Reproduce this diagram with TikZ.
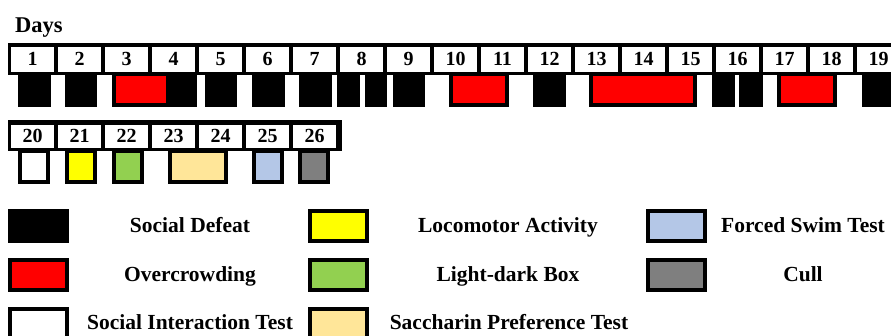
\documentclass[tikz,border=0pt]{standalone}
\usepackage{fontspec}
\setmainfont{Liberation Serif}
\definecolor{ocred}{HTML}{FF0000}
\definecolor{locoyellow}{HTML}{FFFF00}
\definecolor{ldgreen}{HTML}{92D050}
\definecolor{sactan}{HTML}{FFE699}
\definecolor{fstblue}{HTML}{B4C7E7}
\definecolor{cullgray}{HTML}{7F7F7F}
\tikzset{
  daycell/.style={fill=white, minimum width=43pt, inner sep=0pt, text height=12pt, text depth=0pt,
    font=\bfseries\fontsize{20}{20}\selectfont},
  legbox/.style={draw=black, line width=4pt, minimum width=57pt, minimum height=30pt, inner sep=0pt},
  legtext/.style={anchor=base, inner sep=0pt, font=\bfseries\fontsize{21.5}{21.5}\selectfont},
  evframe/.style={draw=black, line width=4pt},
}
% box hanging under a day band: x1, x2, top, bottom, fill
\newcommand\eventbox[5]{%
  \filldraw[evframe, fill=#5] (#1+2,#3) rectangle (#2-2,#4-2);}
\newcommand\defeatbox[4]{%
  \fill[black] (#1,#3) rectangle (#2,#4);}
\begin{document}
\begin{tikzpicture}[x=1pt,y=-1pt]
\useasboundingbox (0,0) rectangle (891,336);
\clip (0,0) rectangle (891,336);

\node[anchor=base west, inner sep=0pt, font=\bfseries\fontsize{22.5}{22.5}\selectfont] (days) at (15,33) {Days};

% ---- first week band: days 1-19
\fill[black] (8,43) rectangle (905,75);
\foreach \i in {1,...,19}
  \node[daycell, minimum height=24.5pt] (d\i) at ({11+47*(\i-1)+21.5},59.5) {\i};

% social defeat sessions
\defeatbox{18}{51}{74}{107}
\defeatbox{65}{97}{74}{107}
\defeatbox{150}{197}{74}{107}
\defeatbox{205}{237}{74}{107}
\defeatbox{252}{285}{74}{107}
\defeatbox{299}{332}{74}{107}
\defeatbox{337}{360}{74}{107}
\defeatbox{365}{387}{74}{107}
\defeatbox{393}{425}{74}{107}
\defeatbox{533}{566}{74}{107}
\defeatbox{712}{735}{74}{107}
\defeatbox{739}{763}{74}{107}
\defeatbox{862}{905}{74}{107}
% overcrowding periods
\eventbox{112}{170}{74}{107}{ocred}
\eventbox{449}{509}{74}{107}{ocred}
\eventbox{589}{697}{74}{107}{ocred}
\eventbox{777}{837}{74}{107}{ocred}

% ---- testing band: days 20-26
\fill[black] (8,120) rectangle (342,151.5);
\foreach \i [count=\k from 0] in {20,...,26}
  \node[daycell, minimum height=23pt] (d\i) at ({11+47*\k+21.5},136.5) {\i};

\eventbox{18}{50}{151}{184}{white}
\eventbox{65}{97}{151}{184}{locoyellow}
\eventbox{112}{144}{151}{184}{ldgreen}
\eventbox{168}{228}{151}{184}{sactan}
\eventbox{252}{284}{151}{184}{fstblue}
\eventbox{298}{330}{151}{184}{cullgray}

% ---- legend
\node[legbox, fill=black] (lsd) at (38.5,226) {};
\node[legbox, fill=ocred] (loc) at (38.5,275) {};
\node[legbox, fill=white] (lsi) at (38.5,324) {};
\node[legbox, fill=locoyellow] (lla) at (338,226) {};
\node[legbox, fill=ldgreen] (lld) at (338,275) {};
\node[legbox, fill=sactan] (lsp) at (338,324) {};
\node[legbox, fill=fstblue] (lfs) at (676,226) {};
\node[legbox, fill=cullgray] (lcu) at (676,275) {};

\node[legtext] (tsd) at (190,233) {Social Defeat};
\node[legtext] (toc) at (190,282) {Overcrowding};
\node[legtext] (tsi) at (190,330) {Social Interaction Test};
\node[legtext] (tla) at (508,233) {Locomotor Activity};
\node[legtext] (tld) at (508,282) {Light-dark Box};
\node[legtext] (tsp) at (509,330) {Saccharin Preference Test};
\node[legtext] (tfs) at (803,233) {Forced Swim Test};
\node[legtext] (tcu) at (803,282) {Cull};
\end{tikzpicture}
\end{document}
